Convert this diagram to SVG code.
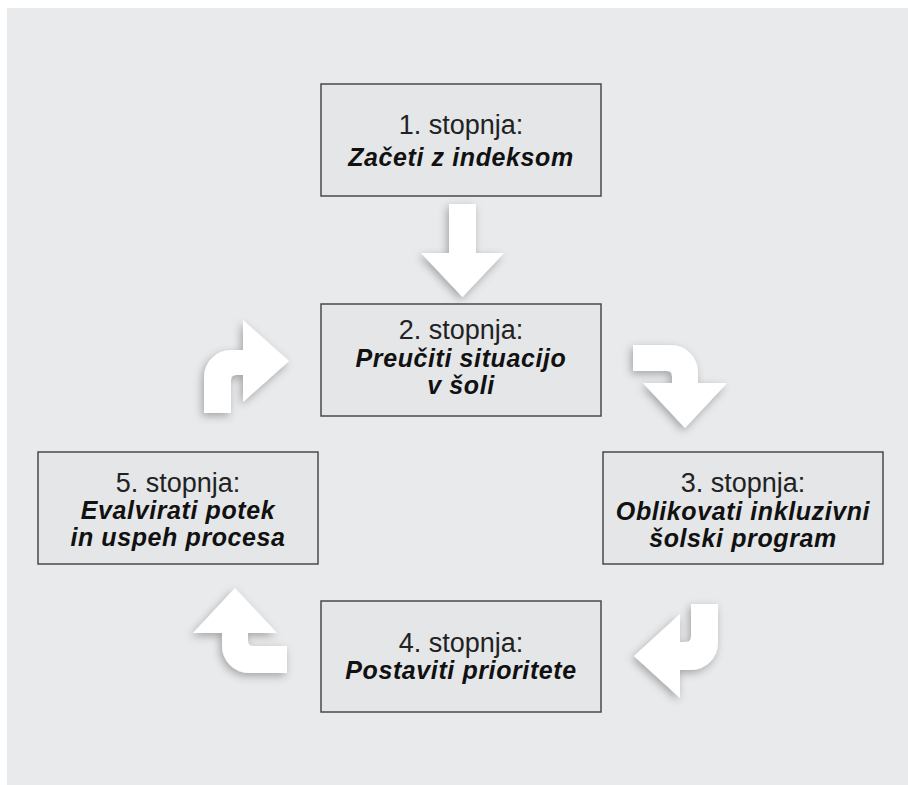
<svg xmlns="http://www.w3.org/2000/svg" width="908" height="785" viewBox="0 0 908 785">
<defs>
<style>
.box rect{fill:#e5e6e8;stroke:#4a4a4a;stroke-width:1.5}
.t1{font-family:"Liberation Sans",Arial,sans-serif;font-size:27px;fill:#222;text-anchor:middle}
.t2{font-family:"Liberation Sans",Arial,sans-serif;font-size:25px;letter-spacing:0.6px;font-weight:bold;font-style:italic;fill:#111;text-anchor:middle}
.arr{fill:#ffffff;filter:url(#sh)}
</style>
<filter id="sh" x="-30%" y="-30%" width="160%" height="160%">
<feDropShadow dx="-2" dy="3" stdDeviation="4" flood-color="#000" flood-opacity="0.3"/>
</filter>
</defs>
<rect x="0" y="0" width="908" height="785" fill="#ffffff"/>
<rect x="7" y="8" width="901" height="777" fill="#e9eaec"/>

<g id="connectors">
<path class="arr" d="M449,204 L476,204 L476,253 L504,253 L462.5,297 L421,253 L449,253 Z"/>
<path class="arr" d="M633,345 L671,345 A27,27 0 0 1 698,372 L698,383 L727,383 L685,428 L643,383 L672,383 L672,376 Q672,371 667,371 L633,371 Z"/>
<path class="arr" d="M718,604 L718,643 A27,27 0 0 1 691,670 L680,670 L680,698 L634,656 L680,614 L680,642 L686,642 Q691,642 691,637 L691,604 Z"/>
<path class="arr" d="M287,646 L253,646 Q248,646 248,641 L248,633 L277,633 L235,588 L193,633 L222,633 L222,646 A27,27 0 0 0 249,673 L287,673 Z"/>
<path class="arr" d="M204,413 L204,377 A27,27 0 0 1 231,350 L243,350 L243,320 L289,361 L243,402 L243,375 L236,375 Q231,375 231,380 L231,413 Z"/>
</g>

<g id="node1" class="box">
<rect x="321" y="84" width="280" height="112"/>
<text class="t1" x="461" y="134">1. stopnja:</text>
<text class="t2" x="461" y="166">Začeti z indeksom</text>
</g>
<g id="node2" class="box">
<rect x="321" y="304" width="280" height="112"/>
<text class="t1" x="461" y="339">2. stopnja:</text>
<text class="t2" x="461" y="367">Preučiti situacijo</text>
<text class="t2" x="461" y="394">v šoli</text>
</g>
<g id="node3" class="box">
<rect x="603" y="452" width="280" height="112"/>
<text class="t1" x="743" y="492">3. stopnja:</text>
<text class="t2" x="743" y="520">Oblikovati inkluzivni</text>
<text class="t2" x="743" y="547">šolski program</text>
</g>
<g id="node4" class="box">
<rect x="321" y="601" width="280" height="111"/>
<text class="t1" x="461" y="652">4. stopnja:</text>
<text class="t2" x="461" y="679">Postaviti prioritete</text>
</g>
<g id="node5" class="box">
<rect x="38" y="452" width="280" height="112"/>
<text class="t1" x="178" y="492">5. stopnja:</text>
<text class="t2" x="178" y="519">Evalvirati potek</text>
<text class="t2" x="178" y="546">in uspeh procesa</text>
</g>
</svg>
